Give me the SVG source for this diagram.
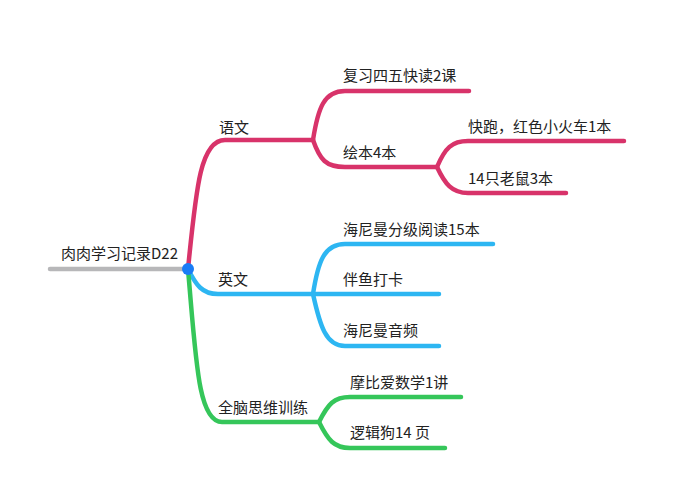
<svg xmlns="http://www.w3.org/2000/svg" width="673" height="498" viewBox="0 0 673 498">
<style>
.t{font-family:"Noto Sans CJK SC","Noto Sans",sans-serif;font-size:15px;fill:#222}
.l{fill:none;stroke-width:4.5;stroke-linecap:round}
.r{stroke:#d8336a}.b{stroke:#2db6f2}.g{stroke:#35c65a}.k{stroke:#b7b7b9}
</style>
<rect width="673" height="498" fill="#fff"/>
<g id="connectors">
<path class="l k" d="M50 269 L188 269"/>
<path class="l r" d="M188 269 C196 190 200 140 225 140 L313 140"/>
<path class="l r" d="M313 140 C318 108 324 91 345 91 L469 91"/>
<path class="l r" d="M313 140 C320 160 326 167 345 167 L437 167"/>
<path class="l r" d="M437 167 C445 148 452 141 468 141 L624 141"/>
<path class="l r" d="M437 167 C445 184 452 193 468 193 L566 193"/>
<path class="l b" d="M188 269 C196 285 202 294 218 294 L439 294"/>
<path class="l b" d="M313 294 C318 262 324 244 345 244 L493 244"/>
<path class="l b" d="M313 294 C320 326 326 346 345 346 L439 346"/>
<path class="l g" d="M188 269 C196 360 198 422 222 422 L319 422"/>
<path class="l g" d="M319 422 C328 404 334 397 350 397 L461 397"/>
<path class="l g" d="M319 422 C328 440 334 448 350 448 L445 448"/>
</g>
<g id="root"><circle cx="188" cy="269" r="6" fill="#1a7cf6"/><text class="t" x="61" y="259">肉肉学习记录D22</text></g>
<g id="n-yuwen"><text class="t" x="219" y="133">语文</text></g>
<g id="n-fuxi"><text class="t" x="343" y="81">复习四五快读2课</text></g>
<g id="n-huiben"><text class="t" x="343" y="158">绘本4本</text></g>
<g id="n-kuaipao"><text class="t" x="468" y="132">快跑，红色小火车1本</text></g>
<g id="n-laoshu"><text class="t" x="468" y="184">14只老鼠3本</text></g>
<g id="n-yingwen"><text class="t" x="218" y="285">英文</text></g>
<g id="n-hainiman"><text class="t" x="343" y="235">海尼曼分级阅读15本</text></g>
<g id="n-banyu"><text class="t" x="343" y="285">伴鱼打卡</text></g>
<g id="n-yinpin"><text class="t" x="343" y="336">海尼曼音频</text></g>
<g id="n-quannao"><text class="t" x="218" y="413">全脑思维训练</text></g>
<g id="n-mobi"><text class="t" x="350" y="388">摩比爱数学1讲</text></g>
<g id="n-luoji"><text class="t" x="350" y="438">逻辑狗14 页</text></g>
</svg>
